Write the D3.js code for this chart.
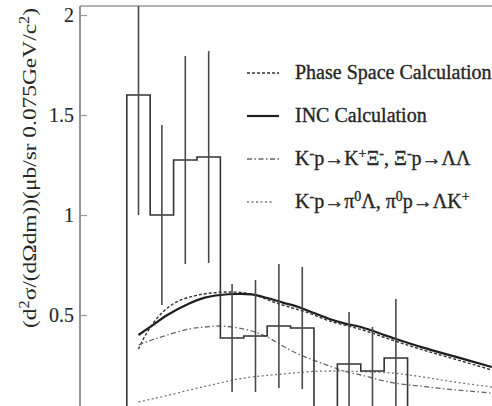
<!DOCTYPE html>
<html>
<head>
<meta charset="utf-8">
<script src="https://cdn.jsdelivr.net/npm/d3@7"></script>
<style>
  html, body { margin: 0; padding: 0; background: #fff; }
  svg { display: block; }
  text { font-family: "Liberation Serif", "Times New Roman", serif; fill: #262626; }
</style>
</head>
<body>
<svg id="chart" width="492" height="406"></svg>
<script>
// ΛΛ invariant-mass spectrum: measured histogram with error bars and model curves.

// Histogram bins (lower edges, GeV/c^2), contents and errors
const binLow = [2.35, 2.425, 2.50, 2.575, 2.65, 2.725, 2.80, 2.875, 2.95, 3.025, 3.10, 3.175];
const binWidth = 0.075;
const binValue = [1.60, 1.00, 1.275, 1.29, 0.385, 0.395, 0.445, 0.435, 0, 0.255, 0.22, 0.285];
const binError = [0.60, 0.45, 0.52, 0.53, 0.27, 0.28, 0.31, 0.305, null, 0.26, 0.22, 0.295];

// Model curves (mass in GeV/c^2, cross section)
const incMass   = [2.3875, 2.43, 2.48, 2.55, 2.60, 2.65, 2.70, 2.75, 2.80, 2.85, 2.90, 2.95, 3.00, 3.05, 3.10, 3.20, 3.30, 3.40, 3.52];
const incValue  = [0.40, 0.446, 0.50, 0.558, 0.587, 0.60, 0.605, 0.603, 0.585, 0.562, 0.54, 0.51, 0.48, 0.457, 0.44, 0.387, 0.337, 0.293, 0.24];

const psMass    = [2.3875, 2.41, 2.44, 2.48, 2.52, 2.57, 2.62, 2.67, 2.72, 2.77, 2.82, 2.87, 2.93, 3.00, 3.10, 3.20, 3.30, 3.40, 3.52];
const psValue   = [0.33, 0.40, 0.47, 0.535, 0.573, 0.597, 0.61, 0.615, 0.612, 0.595, 0.565, 0.54, 0.512, 0.47, 0.428, 0.375, 0.325, 0.28, 0.225];

const xiMass    = [2.3875, 2.43, 2.48, 2.55, 2.60, 2.65, 2.70, 2.75, 2.80, 2.85, 2.90, 2.95, 3.00, 3.05, 3.10, 3.20, 3.30, 3.40, 3.52];
const xiValue   = [0.35, 0.375, 0.40, 0.43, 0.44, 0.445, 0.437, 0.42, 0.39, 0.345, 0.305, 0.273, 0.245, 0.218, 0.20, 0.162, 0.143, 0.126, 0.11];

const piMass    = [2.3875, 2.43, 2.48, 2.55, 2.60, 2.65, 2.70, 2.75, 2.80, 2.85, 2.90, 2.95, 3.00, 3.05, 3.10, 3.20, 3.30, 3.40, 3.52];
const piValue   = [0.065, 0.08, 0.097, 0.125, 0.143, 0.16, 0.178, 0.19, 0.198, 0.205, 0.212, 0.218, 0.22, 0.22, 0.217, 0.21, 0.19, 0.165, 0.14];

const yTicks = [0.5, 1, 1.5, 2];
const yTickLabels = ["0.5", "1", "1.5", "2"];

const legendLabels = [
  [["Phase Space Calculation"]],
  [["INC Calculation"]],
  [["K"], ["-", "sup"], ["p→K"], ["+", "sup"], ["Ξ"], ["-", "sup"], [", Ξ"], ["-", "sup"], ["p→ΛΛ"]],
  [["K"], ["-", "sup"], ["p→π"], ["0", "sup"], ["Λ, π"], ["0", "sup"], ["p→ΛK"], ["+", "sup"]]
];
const yLabel = [["(d"], ["2", "sup"], ["σ/(dΩdm))(μb/sr 0.075GeV/c"], ["2", "sup"], [")"]];

const svg = d3.select("#chart");

const x = d3.scaleLinear().domain([2.2, 3.52]).range([80, 491.8]);
const y = d3.scaleLinear().domain([0, 2]).range([415, 15]);

svg.append("defs").append("clipPath").attr("id", "plot")
  .append("rect").attr("x", 80).attr("y", 6).attr("width", 420).attr("height", 420);

// frame
svg.append("line").attr("x1", 80).attr("x2", 492).attr("y1", 6).attr("y2", 6)
  .attr("stroke", "#9a9a9a").attr("stroke-width", 1.4);
svg.append("line").attr("x1", 80).attr("x2", 80).attr("y1", 6).attr("y2", 406)
  .attr("stroke", "#8a8a8a").attr("stroke-width", 1.8);

// y axis, ticks pointing inward
const yAxis = d3.axisLeft(y).tickValues(yTicks)
  .tickFormat((d, i) => yTickLabels[i]).tickSizeInner(-7).tickSizeOuter(0).tickPadding(6);
const gy = svg.append("g").attr("transform", "translate(80,0)").call(yAxis);
gy.attr("font-family", null);
gy.select(".domain").remove();
gy.selectAll(".tick line").attr("stroke", "#9a9a9a").attr("stroke-width", 1.2);
gy.selectAll(".tick text").attr("font-size", 20)
  .attr("fill", "#444").attr("stroke", "#444").attr("stroke-width", 0.2).attr("dy", "0.34em");

// rich text with superscripts
function addRich(sel, parts) {
  parts.forEach(p => {
    const t = sel.append("tspan").text(p[0]);
    if (p[1] === "sup") t.attr("baseline-shift", "super").attr("font-size", "70%");
  });
}
const yl = svg.append("text")
  .attr("transform", "translate(36,168) rotate(-90)")
  .attr("text-anchor", "middle").attr("font-size", 19.5)
  .attr("textLength", 320).attr("lengthAdjust", "spacingAndGlyphs")
  .attr("fill", "#444");
addRich(yl, yLabel);

const plot = svg.append("g").attr("clip-path", "url(#plot)");

// model curves
const curve = d3.line().x(d => x(d[0])).y(d => y(d[1])).curve(d3.curveCatmullRom.alpha(0.5));
const styles = [
  { m: psMass,  v: psValue,  stroke: "#333", w: 1.4, dash: "3,2" },
  { m: incMass, v: incValue, stroke: "#1e1e1e", w: 2.2, dash: null },
  { m: xiMass,  v: xiValue,  stroke: "#666", w: 1.3, dash: "5,2.5,1.5,2.5" },
  { m: piMass,  v: piValue,  stroke: "#777", w: 1.3, dash: "2,2.5" }
];
styles.forEach(s => {
  plot.append("path").datum(s.m.map((m, i) => [m, s.v[i]]))
    .attr("d", curve).attr("fill", "none")
    .attr("stroke", s.stroke).attr("stroke-width", s.w)
    .attr("stroke-dasharray", s.dash);
});

// histogram outline
const edges = binLow.concat([binLow[binLow.length - 1] + binWidth]);
const histPts = [[edges[0], 0]];
binValue.forEach((v, i) => histPts.push([edges[i], v]));
histPts.push([edges[edges.length - 1], 0]);
plot.append("path").datum(histPts)
  .attr("d", d3.line().x(d => x(d[0])).y(d => y(d[1])).curve(d3.curveStepAfter))
  .attr("fill", "none").attr("stroke", "#333").attr("stroke-width", 1.6);

// error bars
binValue.forEach((v, i) => {
  if (binError[i] == null) return;
  const cx = x(binLow[i] + binWidth / 2);
  plot.append("line").attr("x1", cx).attr("x2", cx)
    .attr("y1", y(v - binError[i])).attr("y2", y(v + binError[i]))
    .attr("stroke", "#4a4a4a").attr("stroke-width", 1.6);
});

// legend
const lg = svg.append("g");
const lx0 = 247, lx1 = 279, ltx = 295;
legendLabels.forEach((parts, i) => {
  const s = styles[i];
  const ly = 73 + i * 43;
  lg.append("line").attr("x1", lx0).attr("x2", i === 3 ? 273 : lx1).attr("y1", ly).attr("y2", ly)
    .attr("stroke", s.stroke).attr("stroke-width", s.w).attr("stroke-dasharray", s.dash);
  const t = lg.append("text").attr("x", ltx).attr("y", ly + 6).attr("font-size", 20)
    .attr("stroke", "#262626").attr("stroke-width", 0.35);
  addRich(t, parts);
});
</script>
</body>
</html>
